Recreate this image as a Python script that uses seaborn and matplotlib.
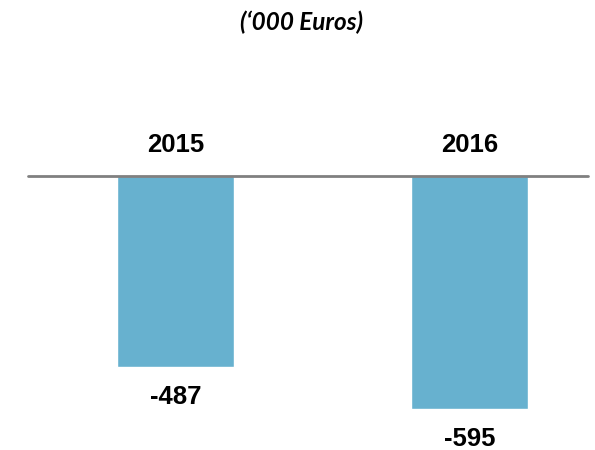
import matplotlib
matplotlib.use("Agg")
import matplotlib.pyplot as plt
import seaborn as sns
import pandas as pd

years = ["2015", "2016"]
values = [-487, -595]

df = pd.DataFrame({"Year": years, "Value": values})

sns.set_theme(style="white")
plt.rcParams["font.family"] = ["Liberation Sans", "DejaVu Sans"]

fig = plt.figure(figsize=(5.95, 4.5), dpi=100)
ax = fig.add_axes([28 / 595, 0, 560 / 595, 1 - 176 / 450])

sns.barplot(data=df, x="Year", y="Value", color="#67B1CF", saturation=1,
            width=0.398, ax=ax)

ax.set_xlim(-0.5017, 1.403)
ax.set_ylim(-700, 0)
ax.axhline(0, color="#808080", lw=2, clip_on=False, zorder=5)

for i, (yr, v) in enumerate(zip(years, values)):
    ax.annotate(yr, (i, 0), xytext=(0, 22), textcoords="offset points",
                ha="center", va="center", fontsize=18.5, fontweight="bold",
                color="black", annotation_clip=False)
    ax.annotate(f"{v}", (i, v), xytext=(0, -22), textcoords="offset points",
                ha="center", va="center", fontsize=18.5, fontweight="bold",
                color="black", annotation_clip=False)

ax.set_axis_off()

fig.text(302 / 595, 1 - 22 / 450, "(\u2018000 Euros)", ha="center", va="center",
         fontsize=17.5, fontweight="bold", style="italic", family="Lato",
         color="black")

fig.savefig("out.png", dpi=100)
plt.close(fig)
